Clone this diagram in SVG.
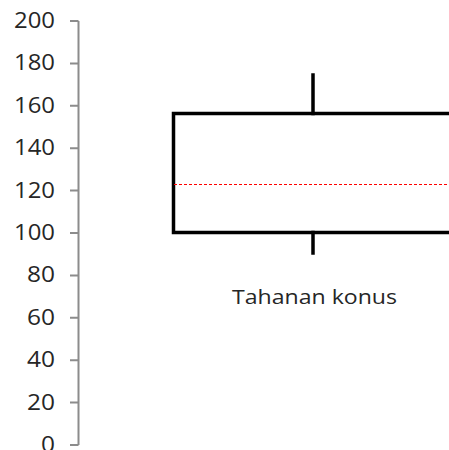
<svg xmlns="http://www.w3.org/2000/svg" width="449" height="450" viewBox="0 0 449 450">
<style>
.lbl{font-family:"Open Sans","Liberation Sans",sans-serif;font-size:21px;fill:#262626;text-anchor:end}
.ax{stroke:#8c8c8c;stroke-width:2;fill:none}
.box{stroke:#000;stroke-width:3.5;fill:none;stroke-linecap:square}
</style>
<rect width="449" height="450" fill="#fff"/>
<g id="axis">
<path class="ax" d="M78.5 21V445M70 21H78.5M70 63.4H78.5M70 105.8H78.5M70 148.2H78.5M70 190.6H78.5M70 233H78.5M70 275.4H78.5M70 317.8H78.5M70 360.2H78.5M70 402.6H78.5M70 445H78.5"/>
<text class="lbl" x="55" y="28" textLength="41" lengthAdjust="spacingAndGlyphs">200</text>
<text class="lbl" x="55" y="70.4" textLength="41" lengthAdjust="spacingAndGlyphs">180</text>
<text class="lbl" x="55" y="112.8" textLength="41" lengthAdjust="spacingAndGlyphs">160</text>
<text class="lbl" x="55" y="155.2" textLength="41" lengthAdjust="spacingAndGlyphs">140</text>
<text class="lbl" x="55" y="197.6" textLength="41" lengthAdjust="spacingAndGlyphs">120</text>
<text class="lbl" x="55" y="240" textLength="41" lengthAdjust="spacingAndGlyphs">100</text>
<text class="lbl" x="55" y="282.4" textLength="28" lengthAdjust="spacingAndGlyphs">80</text>
<text class="lbl" x="55" y="324.8" textLength="28" lengthAdjust="spacingAndGlyphs">60</text>
<text class="lbl" x="55" y="367.2" textLength="28" lengthAdjust="spacingAndGlyphs">40</text>
<text class="lbl" x="55" y="409.6" textLength="28" lengthAdjust="spacingAndGlyphs">20</text>
<text class="lbl" x="55" y="452" textLength="14" lengthAdjust="spacingAndGlyphs">0</text>
</g>
<g id="boxplot">
<path class="box" d="M452 113.5H173.5V232.5H452"/>
<path class="box" d="M313 75V113.5M313 232.5V253" stroke-linecap="butt"/>
<line x1="174" y1="184.5" x2="449" y2="184.5" stroke="#ff0000" stroke-width="1" stroke-dasharray="3,2"/>
</g>
<text x="314.5" y="303.5" font-family="Open Sans, Liberation Sans, sans-serif" font-size="20" fill="#262626" text-anchor="middle" textLength="165" lengthAdjust="spacingAndGlyphs">Tahanan konus</text>
</svg>
